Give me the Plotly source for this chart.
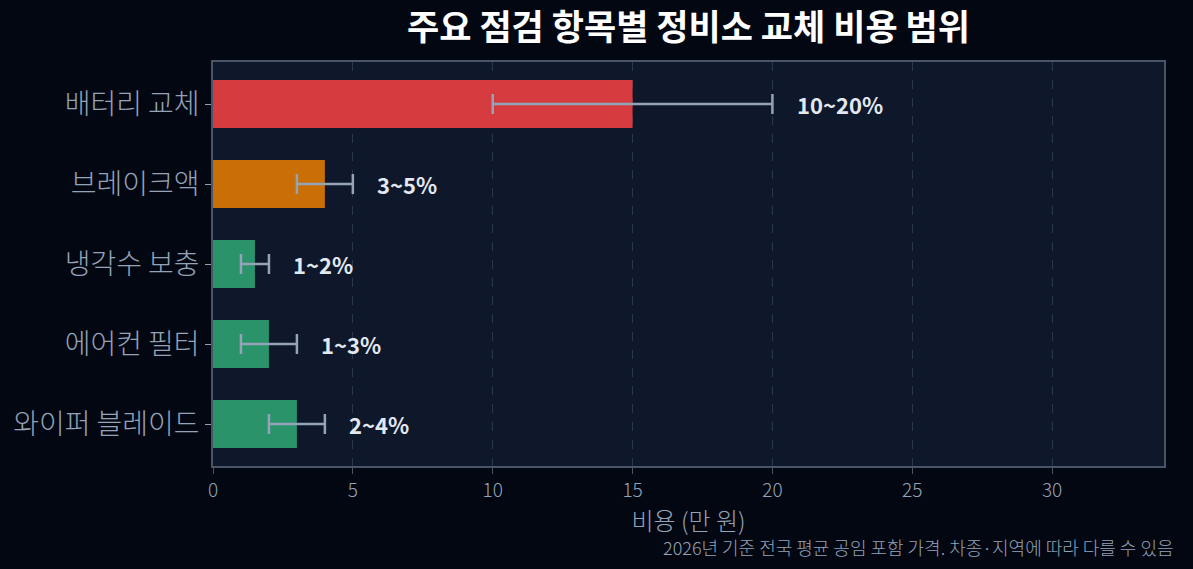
import plotly.graph_objects as go

# ── Data ────────────────────────────────────────────────────────
items = ["배터리 교체", "브레이크액", "냉각수 보충", "에어컨 필터", "와이퍼 블레이드"]
cost_mid = [15, 4, 1.5, 2, 3]
cost_low = [10, 3, 1, 1, 2]
cost_high = [20, 5, 2, 3, 4]
range_labels = ["10~20%", "3~5%", "1~2%", "1~3%", "2~4%"]
bar_colors = ["#d63b3f", "#c96f06", "#2a936a", "#2a936a", "#2a936a"]

FONT = "Noto Sans CJK KR"

fig = go.Figure()

fig.add_trace(go.Bar(
    y=items,
    x=cost_mid,
    orientation="h",
    width=0.6,
    marker=dict(color=bar_colors, line=dict(width=0)),
    error_x=dict(
        type="data",
        symmetric=False,
        array=[h - m for h, m in zip(cost_high, cost_mid)],
        arrayminus=[m - l for m, l in zip(cost_mid, cost_low)],
        color="#94a3b8",
        thickness=2.5,
        width=10,
    ),
    showlegend=False,
    hoverinfo="skip",
))

# range labels to the right of each error bar
annotations = []
for item, hi, lab in zip(items, cost_high, range_labels):
    annotations.append(dict(
        x=hi + 0.8, y=item, xref="x", yref="y",
        text=f"<b>{lab}</b>", showarrow=False,
        xanchor="left", yanchor="middle",
        font=dict(family=FONT, size=22, color="#e2e8f0"),
    ))

annotations.append(dict(
    text="2026년 기준 전국 평균 공임 포함 가격. 차종·지역에 따라 다를 수 있음",
    xref="paper", yref="paper", x=1.013, y=-0.2,
    xanchor="right", yanchor="middle", showarrow=False,
    font=dict(family=FONT, size=18, color="#94a3b8", weight=300),
))

fig.update_layout(
    title=dict(
        text="<b>주요 점검 항목별 정비소 교체 비용 범위</b>",
        x=0.5, xref="paper", y=0.952, yanchor="middle",
        font=dict(family=FONT, size=35, color="#ffffff"),
    ),
    width=1193, height=569,
    margin=dict(l=213, r=29, t=62, b=103),
    paper_bgcolor="#030712",
    plot_bgcolor="#0f172a",
    font=dict(family=FONT, color="#94a3b8"),
    annotations=annotations,
    xaxis=dict(
        range=[0, 34],
        dtick=5,
        showgrid=True,
        gridcolor="#2b374b",
        griddash="dash",
        gridwidth=1.2,
        zeroline=False,
        showline=True,
        linecolor="#475569",
        linewidth=1.5,
        mirror=True,
        ticks="outside",
        ticklen=6,
        tickcolor="#475569",
        tickfont=dict(family=FONT, size=19, color="#94a3b8", weight=300),
        title=dict(text="비용 (만 원)", font=dict(family=FONT, size=24, color="#94a3b8", weight=300), standoff=4),
    ),
    yaxis=dict(
        range=[4.525, -0.525],
        showgrid=False,
        showline=True,
        linecolor="#475569",
        linewidth=1.5,
        mirror=True,
        ticks="outside",
        ticklen=6,
        tickcolor="#94a3b8",
        tickfont=dict(family=FONT, size=28, color="#94a3b8", weight=300),
    ),
)

fig.write_html(
    "out.html",
    config={"displayModeBar": False},
    post_script="document.body.style.margin='0';document.body.style.background='#030712';",
)
